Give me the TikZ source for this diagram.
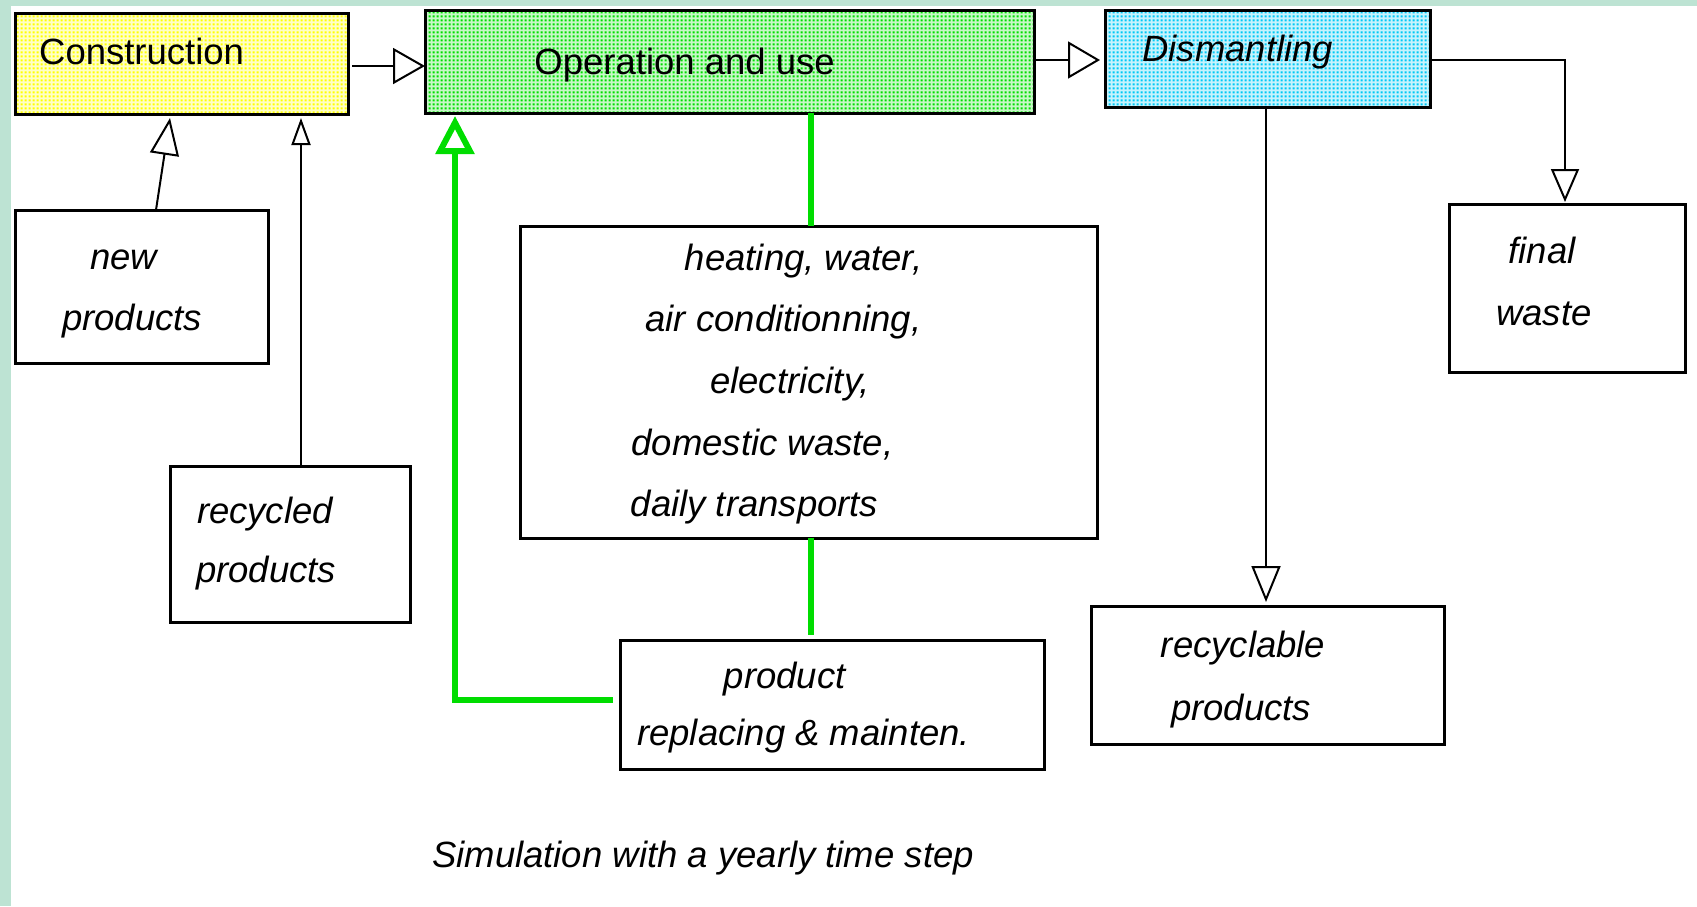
\documentclass[tikz,border=0pt]{standalone}
\usepackage{fontspec}
\setmainfont{Liberation Sans}
\usetikzlibrary{arrows.meta,calc,patterns}
\definecolor{mint}{HTML}{BDE3D3}
\definecolor{dotyellow}{HTML}{FFFF00}
\definecolor{dotgreen}{HTML}{00DD00}
\definecolor{dotcyan}{HTML}{00C8F5}
\definecolor{flowgreen}{HTML}{00DD00}
\pgfdeclarepatternformonly{sqdots}{\pgfqpoint{0pt}{0pt}}{\pgfqpoint{4pt}{4pt}}{\pgfqpoint{4pt}{4pt}}{\pgfpathrectangle{\pgfqpoint{0.7pt}{0.7pt}}{\pgfqpoint{2.6pt}{2.6pt}}\pgfusepath{fill}}
\tikzset{
  box/.style={draw=black, line width=3pt, rectangle, anchor=north west, inner sep=0pt, outer sep=0pt},
  dotbox/.style={box, preaction={fill=#1!22}, pattern=sqdots, pattern color=#1},
  txt/.style={anchor=base, inner sep=0pt, font=\fontsize{36.5}{44}\selectfont\itshape},
  txtup/.style={anchor=base, inner sep=0pt, font=\fontsize{36.5}{44}\selectfont},
  blk/.style={draw=black, line width=2pt},
  grn/.style={draw=flowgreen, line width=6pt},
}
\begin{document}
\begin{tikzpicture}[x=1pt,y=-1pt]
\useasboundingbox (0,0) rectangle (1697,906);
\fill[white] (0,0) rectangle (1697,906);
\fill[mint] (0,0) rectangle (1697,6);
\fill[mint] (0,0) rectangle (11,906);

% boxes
\node[dotbox=dotyellow, minimum width=333pt, minimum height=101pt] (cons) at (15,13) {};
\node[dotbox=dotgreen, minimum width=609pt, minimum height=103pt] (oper) at (425,10) {};
\node[dotbox=dotcyan, minimum width=325pt, minimum height=97pt] (dism) at (1105,10) {};
\node[box, minimum width=253pt, minimum height=153pt] (newp) at (15,210) {};
\node[box, minimum width=240pt, minimum height=156pt] (recy) at (170,466) {};
\node[box, minimum width=577pt, minimum height=312pt] (heat) at (520,226) {};
\node[box, minimum width=424pt, minimum height=129pt] (prod) at (620,640) {};
\node[box, minimum width=353pt, minimum height=138pt] (rcbl) at (1091,606) {};
\node[box, minimum width=236pt, minimum height=168pt] (finw) at (1449,204) {};

% texts
\node[txtup] (tcons) at (141.6,64) {Construction};
\node[txtup] (toper) at (684.6,74) {Operation and use};
\node[txt] (tdism) at (1237.7,61.7) {Dismantling};
\node[txt] (tnew1) at (123.7,269) {new};
\node[txt] (tnew2) at (132,330) {products};
\node[txt] (trec1) at (265,523) {recycled};
\node[txt] (trec2) at (266,582) {products};
\node[txt] (theat1) at (803.6,270) {heating, water,};
\node[txt] (theat2) at (783.5,331.7) {air conditionning,};
\node[txt] (theat3) at (790,393.4) {electricity,};
\node[txt] (theat4) at (762.5,455) {domestic waste,};
\node[txt] (theat5) at (754.5,516.7) {daily transports};
\node[txt] (tprod1) at (784.6,688) {product};
\node[txt] (tprod2) at (803.6,745) {replacing \& mainten.};
\node[txt] (trcbl1) at (1243,657) {recyclable};
\node[txt] (trcbl2) at (1241,720) {products};
\node[txt] (tfin1) at (1542,263) {final};
\node[txt] (tfin2) at (1544,325) {waste};
\node[txt] (caption) at (703,867) {Simulation with a yearly time step};

% black connectors
\draw[blk, -{Triangle[open, length=32pt, width=36pt]}]
  ($(cons.east)+(4,2.5)$) -- ($(oper.west)+(0,4.5)$);
\draw[blk, -{Triangle[open, length=32pt, width=37pt]}]
  (oper.east) ++(0,-1.5) coordinate (oe) -- ($(dism.west)+(-5,1.5)$);
\draw[blk, -{Triangle[open, length=37pt, width=29pt]}]
  ($(newp.north west)+(141,0)$) -- ($(cons.south west)+(155,4)$);
\draw[blk, -{Triangle[open, length=27pt, width=19pt]}]
  ($(recy.north west)+(131,0)$) -- ($(cons.south west)+(286,4)$);
\draw[blk, -{Triangle[open, length=33pt, width=28pt]}]
  ($(dism.east)+(0,1.5)$) -| ($(finw.north west)+(116,-2)$);
\draw[blk, -{Triangle[open, length=36pt, width=29pt]}]
  ($(dism.south west)+(161,0)$) -- ($(rcbl.north west)+(175,-4)$);

% green connectors
\draw[grn, -{Triangle[open, length=38pt, width=38pt]}]
  ($(prod.north west)+(-7,60)$) -| ($(oper.south west)+(30,3)$);
\draw[grn] ($(oper.south west)+(386,0)$) -- ($(heat.north west)+(291,0)$);
\draw[grn] ($(heat.south west)+(291,0)$) -- ($(prod.north west)+(191,-5)$);
\end{tikzpicture}
\end{document}
